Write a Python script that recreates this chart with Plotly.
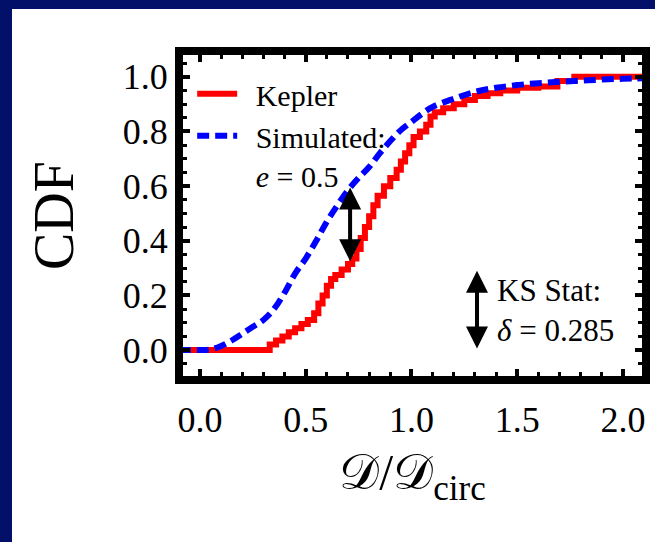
import plotly.graph_objects as go

# ---- data ----
kepler_x = [-0.1, 0.33, 0.36, 0.39, 0.42, 0.45, 0.48, 0.51, 0.54, 0.56, 0.58, 0.60, 0.62, 0.64,
            0.67, 0.70, 0.72, 0.74, 0.76, 0.78, 0.80, 0.82, 0.84, 0.87, 0.90, 0.93, 0.95, 0.97,
            0.99, 1.01, 1.04, 1.07, 1.09, 1.11, 1.15, 1.20, 1.25, 1.30, 1.36, 1.42, 1.50, 1.60,
            1.69, 1.77, 2.2]
kepler_y = [0.0, 0.02, 0.035, 0.05, 0.065, 0.08, 0.095, 0.11, 0.135, 0.17, 0.20, 0.235, 0.26, 0.275,
            0.295, 0.315, 0.335, 0.37, 0.41, 0.45, 0.49, 0.53, 0.565, 0.60, 0.63, 0.66, 0.69, 0.72,
            0.75, 0.78, 0.80, 0.825, 0.855, 0.87, 0.885, 0.90, 0.915, 0.93, 0.94, 0.95, 0.96, 0.965,
            0.985, 1.0, 1.0]

sim_x = [-0.1, 0.0, 0.05, 0.1, 0.15, 0.2, 0.25, 0.3, 0.35, 0.4, 0.45, 0.5, 0.55, 0.6, 0.65, 0.7,
         0.75, 0.8, 0.85, 0.9, 0.95, 1.0, 1.05, 1.1, 1.2, 1.3, 1.4, 1.5, 1.6, 1.7, 1.8, 1.9, 2.0, 2.1]
sim_y = [0.0, 0.0, 0.002, 0.015, 0.035, 0.06, 0.085, 0.11, 0.15, 0.21, 0.28, 0.335, 0.40, 0.47,
         0.53, 0.585, 0.63, 0.67, 0.72, 0.765, 0.805, 0.835, 0.865, 0.89, 0.92, 0.945, 0.96, 0.97,
         0.977, 0.982, 0.986, 0.99, 0.993, 0.995]

x_ticks = [0.0, 0.5, 1.0, 1.5, 2.0]
x_ticktext = ["0.0", "0.5", "1.0", "1.5", "2.0"]
y_ticks = [0.0, 0.2, 0.4, 0.6, 0.8, 1.0]
y_ticktext = ["0.0", "0.2", "0.4", "0.6", "0.8", "1.0"]

ks_x = 0.71
ks_low = 0.32
ks_high = 0.595
ks_label = "KS Stat:<br><i>δ</i> = 0.285"
key_arrow_x = 1.31
key_arrow_y = [0.0, 0.29]

NB = "\u00a0\u2009"
FONT = "Liberation Serif"
W, H = 655, 542
L, R, T, B = 183, 13, 55, 166
pw, ph = W - L - R, H - T - B

fig = go.Figure()
fig.add_trace(go.Scatter(x=kepler_x, y=kepler_y, mode="lines", name=NB + "Kepler",
                         line=dict(color="#ff0000", width=6, shape="hv")))
fig.add_trace(go.Scatter(x=sim_x, y=sim_y, mode="lines",
                         name=NB + "Simulated:<br>" + NB + "<i>e</i> = 0.5",
                         line=dict(color="#0000ff", width=6, dash="12px,6px", shape="spline")))

axis_common = dict(showline=True, linewidth=8, linecolor="black", mirror="ticks",
                   ticks="inside", ticklen=7, tickwidth=4, tickcolor="black",
                   showgrid=False, zeroline=False, automargin=False,
                   tickfont=dict(family=FONT, size=36, color="black"))

fig.update_xaxes(range=[-0.08, 2.09], tickvals=x_ticks, ticktext=x_ticktext,
                 ticklabelstandoff=5,
                 minor=dict(dtick=0.1, tick0=0, ticks="inside", ticklen=4, tickwidth=3, tickcolor="black"),
                 title=dict(text="𝒟/𝒟<sub>circ</sub>", font=dict(family=FONT, size=50, color="black"),
                            standoff=18),
                 **axis_common)
fig.update_yaxes(range=[-0.095, 1.08], tickvals=y_ticks, ticktext=y_ticktext,
                 minor=dict(dtick=0.05, tick0=0, ticks="inside", ticklen=4, tickwidth=3, tickcolor="black"),
                 title=dict(text="CDF", font=dict(family=FONT, size=56, color="black"), standoff=34),
                 **axis_common)

# KS arrows
fig.add_annotation(x=ks_x, y=ks_high, ax=ks_x, ay=ks_low, axref="x", ayref="y", xref="x", yref="y",
                   text="", showarrow=True, arrowside="end+start", arrowhead=2, arrowsize=1.1,
                   arrowwidth=4, arrowcolor="black")
fig.add_annotation(x=key_arrow_x, y=key_arrow_y[1], ax=key_arrow_x, ay=key_arrow_y[0], axref="x", ayref="y",
                   xref="x", yref="y",
                   text="", showarrow=True, arrowside="end+start", arrowhead=2, arrowsize=1.1,
                   arrowwidth=4, arrowcolor="black")
fig.add_annotation(x=1.395, y=0.145, xref="x", yref="y", text=ks_label, showarrow=False,
                   xanchor="left", yanchor="middle", align="left",
                   font=dict(family=FONT, size=31, color="black"))

# navy frame strips (page decoration)
def px2x(px):
    return (px - L) / pw

def py2y(py):
    return (H - B - py) / ph

fig.add_shape(type="rect", xref="paper", yref="paper", x0=px2x(-5), x1=px2x(W + 5),
              y0=py2y(9), y1=py2y(-5), fillcolor="#03106a", line_width=0, layer="below")
fig.add_shape(type="rect", xref="paper", yref="paper", x0=px2x(-5), x1=px2x(12),
              y0=py2y(H + 5), y1=py2y(-5), fillcolor="#03106a", line_width=0, layer="below")

fig.update_layout(
    width=W, height=H,
    margin=dict(l=L, r=R, t=T, b=B),
    paper_bgcolor="white", plot_bgcolor="white",
    showlegend=True,
    legend=dict(x=0.02, y=0.96, xanchor="left", yanchor="top", bgcolor="rgba(0,0,0,0)",
                font=dict(family=FONT, size=30, color="black"), valign="top",
                itemwidth=40, tracegroupgap=0),
)

fig.write_html("out.html")
